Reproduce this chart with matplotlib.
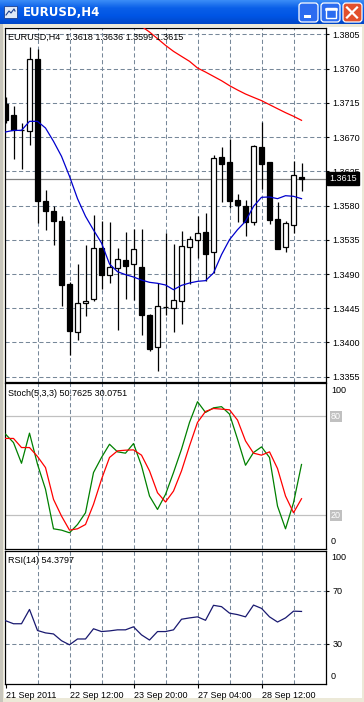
import numpy as np
import matplotlib.pyplot as plt
from matplotlib.patches import Rectangle, FancyBboxPatch
from matplotlib.colors import LinearSegmentedColormap

plt.rcParams['font.family'] = ['Liberation Sans', 'DejaVu Sans']
plt.rcParams['font.size'] = 6.5

W, H = 364, 702

# ===== data (H4 bars) =====
opens = [1.37136, 1.36986, 1.36796, 1.36776, 1.37732, 1.35856, 1.35734, 1.35593, 1.34768, 1.34138,
         1.34515, 1.34576, 1.35242, 1.34883, 1.34979, 1.35080, 1.35027, 1.34988, 1.34356, 1.33935,
         1.34462, 1.34452, 1.34550, 1.35250, 1.35343, 1.35453, 1.35185, 1.36434, 1.36373, 1.35869,
         1.35790, 1.35580, 1.36570, 1.36373, 1.35623, 1.35250, 1.35549, 1.3618]
highs = [1.37223, 1.37105, 1.36886, 1.37885, 1.37858, 1.36009, 1.35799, 1.35658, 1.34795, 1.35032,
         1.35286, 1.35671, 1.35593, 1.35584, 1.35242, 1.35453, 1.35488, 1.35488, 1.34374, 1.34777,
         1.35435, 1.35299, 1.35461, 1.35396, 1.35658, 1.35702, 1.36469, 1.36565, 1.36680, 1.35952,
         1.35869, 1.36601, 1.36894, 1.36375, 1.35847, 1.35601, 1.36391, 1.3636]
lows = [1.36886, 1.36417, 1.36286, 1.36601, 1.35571, 1.35483, 1.35277, 1.34475, 1.33831, 1.34037,
        1.34343, 1.34550, 1.34707, 1.34782, 1.34168, 1.34576, 1.34559, 1.34094, 1.33892, 1.33621,
        1.34362, 1.34133, 1.34243, 1.34768, 1.35111, 1.34812, 1.34914, 1.35847, 1.35769, 1.35580,
        1.35396, 1.35549, 1.36018, 1.35562, 1.35230, 1.35185, 1.35440, 1.3599]
closes = [1.36929, 1.36798, 1.36801, 1.37732, 1.35865, 1.35734, 1.35601, 1.34760, 1.34146, 1.34515,
          1.34550, 1.35242, 1.34892, 1.34988, 1.35097, 1.35010, 1.35224, 1.34365, 1.33918, 1.34475,
          1.34466, 1.34554, 1.35264, 1.35357, 1.35440, 1.35168, 1.36426, 1.36347, 1.35865, 1.35804,
          1.35584, 1.36579, 1.36351, 1.35614, 1.35233, 1.35571, 1.36198, 1.3615]

ma_fast = [1.36768, 1.36789, 1.36789, 1.36908, 1.36908, 1.36820, 1.36645, 1.36448, 1.36185, 1.35891,
           1.35659, 1.35479, 1.35308, 1.35032, 1.34931, 1.34892, 1.34861, 1.34821, 1.34791, 1.34778,
           1.34756, 1.34694, 1.34751, 1.34782, 1.34804, 1.34813, 1.34914, 1.35155, 1.35352, 1.35483,
           1.35593, 1.35790, 1.35909, 1.35913, 1.35891, 1.35930, 1.35922, 1.35891]
ma_slow = [np.nan] * 17 + [1.38157, 1.38082, 1.37995, 1.37907, 1.37828, 1.37762, 1.37697, 1.37609,
                           1.37556, 1.37499, 1.37442, 1.37377, 1.37320, 1.37267, 1.37223, 1.37180,
                           1.37127, 1.37074, 1.37022, 1.36974, 1.36921]

stoch_k = [69.1, 64.0, 51.5, 69.7, 50.9, 35.8, 11.9, 11.1, 9.5, 14.5,
           21.6, 45.9, 55.0, 63.0, 58.4, 57.6, 63.4, 50.0, 31.7, 23.6,
           32.7, 45.9, 60.0, 76.2, 88.7, 82.2, 85.0, 85.7, 81.2, 66.1,
           50.3, 58.0, 61.4, 55.0, 25.6, 11.9, 27.7, 50.7625]
stoch_d = [66.5, 66.5, 61.0, 61.0, 55.6, 48.9, 29.7, 19.6, 11.1, 11.9,
           14.5, 26.7, 41.8, 55.0, 59.0, 59.4, 59.6, 56.4, 46.9, 33.7,
           28.1, 34.7, 46.9, 62.0, 76.2, 82.8, 84.6, 84.2, 83.8, 77.6,
           65.0, 57.6, 56.4, 58.4, 48.3, 31.7, 21.6, 30.0751]
rsi = [47.4, 45.1, 45.1, 55.9, 40.0, 38.2, 37.4, 32.3, 29.2, 33.6,
       33.6, 41.3, 39.2, 39.7, 40.5, 40.5, 42.8, 36.7, 32.8, 39.2,
       39.2, 40.5, 48.5, 49.5, 50.3, 47.7, 59.0, 58.0, 53.1, 52.0,
       50.3, 59.2, 56.7, 50.3, 46.4, 49.5, 54.6, 54.3797]

price_ticks = [1.3805, 1.3760, 1.3715, 1.3670, 1.3625, 1.3580, 1.3535, 1.3490, 1.3445, 1.3400, 1.3355]
date_bars = [0, 8, 16, 24, 32]
date_labels = ["21 Sep 2011", "22 Sep 12:00", "23 Sep 20:00", "27 Sep 04:00", "28 Sep 12:00"]
grid_bars = list(range(4, 40, 4))

GRID = '#778899'
DASH = (0, (4, 2.5))


def rect(x0, y0, x1, y1):
    # pixel box -> figure fraction
    return [x0 / W, 1 - y1 / H, (x1 - x0) / W, (y1 - y0) / H]


def style_panel(ax):
    for s in ax.spines.values():
        s.set_color('black')
        s.set_linewidth(0.9)
    ax.set_xlim(-0.125, 40.06)
    ax.set_xticks([])
    ax.yaxis.tick_right()
    ax.tick_params(axis='y', direction='out', length=2.5, width=0.8, pad=2, labelsize=6.5)
    for b in grid_bars:
        ax.axvline(b, color=GRID, lw=0.75, ls=DASH, zorder=0)


fig = plt.figure(figsize=(W / 100, H / 100), dpi=100)
fig.patch.set_facecolor('white')

# ----- window chrome -----
chrome = fig.add_axes([0, 0, 1, 1])
chrome.set_xlim(0, W)
chrome.set_ylim(H, 0)
chrome.axis('off')
grad = np.linspace(0, 1, 50).reshape(-1, 1)
cm_title = LinearSegmentedColormap.from_list('t', ['#3a8cf7', '#0a5fe8', '#0055e5', '#0047c8'])
chrome.imshow(grad, extent=(0, W, 24, 0), cmap=cm_title, aspect='auto', zorder=0)
chrome.add_patch(Rectangle((0, 24), W, H - 24, fc='#ece9d8', ec='none', zorder=0))
chrome.add_patch(Rectangle((4, 27), W - 6, H - 31, fc='white', ec='none', zorder=0))
chrome.add_patch(Rectangle((0, 24), 3, H - 24, fc='#c8c6bc', ec='none', zorder=0))
# icon
chrome.add_patch(Rectangle((4, 6), 13, 12, fc='#dfe9f7', ec='#1b3f8f', lw=0.6, zorder=1))
chrome.plot([6, 9, 11, 14, 15], [15, 11, 13, 9, 11], color='#1b3f8f', lw=0.8, zorder=2)
chrome.text(23, 12.5, 'EURUSD,H4', color='white', fontsize=8.5, fontweight='bold',
            family='DejaVu Sans', va='center', ha='left', zorder=2)
# buttons
for bx, fc in [(298, '#2c6cf0'), (320, '#2c6cf0'), (342, '#e2502c')]:
    chrome.add_patch(FancyBboxPatch((bx + 1, 3), 19, 19, boxstyle='round,pad=0,rounding_size=3',
                                    fc=fc, ec='white', lw=0.9, zorder=2))
chrome.add_patch(Rectangle((304, 15), 7, 2.5, fc='white', ec='none', zorder=3))
chrome.add_patch(Rectangle((325.5, 7.5), 10, 10, fc='none', ec='white', lw=1.0, zorder=3))
chrome.plot([325.5, 335.5], [8.5, 8.5], color='white', lw=1.8, zorder=3)
chrome.plot([347, 357], [7.5, 17.5], color='white', lw=1.6, zorder=3)
chrome.plot([347, 357], [17.5, 7.5], color='white', lw=1.6, zorder=3)

# ----- main price panel -----
ax = fig.add_axes(rect(4.5, 28, 326, 381.5))
style_panel(ax)
ax.set_ylim(1.33487, 1.38135)
ax.set_yticks(price_ticks)
ax.set_yticklabels([f"{p:.4f}" for p in price_ticks])
for p in price_ticks:
    ax.axhline(p, color=GRID, lw=0.75, ls=DASH, zorder=0)

x = np.arange(len(opens))
for i in x:
    o, h, l, c = opens[i], highs[i], lows[i], closes[i]
    ax.vlines(i, l, h, color='black', lw=0.9, zorder=3)
    if abs(c - o) < 0.00008:
        ax.hlines(o, i - 0.3, i + 0.3, color='black', lw=0.9, zorder=4)
    else:
        ax.add_patch(Rectangle((i - 0.3, min(o, c)), 0.6, abs(c - o),
                               fc='white' if c > o else 'black', ec='black', lw=0.9, zorder=4))

ax.plot(x, ma_fast, color='#0000cd', lw=0.9, zorder=5)
ax.plot(x, ma_slow, color='red', lw=0.9, zorder=5)
ax.axhline(closes[-1], color='#808080', lw=0.9, zorder=1)
ax.annotate(f"{closes[-1]:.4f}", xy=(1, closes[-1]), xycoords=('axes fraction', 'data'),
            xytext=(2.5, 0), textcoords='offset points', va='center', ha='left', color='white',
            fontsize=6.5, bbox=dict(boxstyle='square,pad=0.22', fc='black', ec='black'),
            annotation_clip=False, zorder=10)
ax.text(0.012, 0.985, "EURUSD,H4  " + " ".join(f"{v:.4f}" for v in
        [opens[-1], highs[-1], lows[-1], closes[-1]]),
        transform=ax.transAxes, va='top', ha='left', fontsize=6.5, zorder=10)

# ----- stochastic panel -----
ax2 = fig.add_axes(rect(4.5, 383, 326, 548.5))
style_panel(ax2)
ax2.set_ylim(0, 100)
ax2.set_yticks([])
for lvl in (20, 80):
    ax2.axhline(lvl, color='#c0c0c0', lw=0.9, zorder=0)
    ax2.annotate(str(lvl), xy=(1, lvl), xycoords=('axes fraction', 'data'), xytext=(3.5, 0),
                 textcoords='offset points', va='center', ha='left', color='white', fontsize=6.5,
                 bbox=dict(boxstyle='square,pad=0.1', fc='#c0c0c0', ec='none'), annotation_clip=False)
ax2.annotate("100", xy=(1, 100), xycoords=('axes fraction', 'data'), xytext=(3.5, -2),
             textcoords='offset points', va='top', ha='left', fontsize=6.5, annotation_clip=False)
ax2.annotate("0", xy=(1, 0), xycoords=('axes fraction', 'data'), xytext=(3.5, 2),
             textcoords='offset points', va='bottom', ha='left', fontsize=6.5, annotation_clip=False)
ax2.plot(x, stoch_k, color='#008000', lw=0.9, zorder=3)
ax2.plot(x, stoch_d, color='red', lw=0.9, zorder=4)
ax2.text(0.012, 0.965, f"Stoch(5,3,3) {stoch_k[-1]:.4f} {stoch_d[-1]:.4f}",
         transform=ax2.transAxes, va='top', ha='left', fontsize=6.5)

# ----- RSI panel -----
ax3 = fig.add_axes(rect(4.5, 551, 326, 683.5))
style_panel(ax3)
ax3.set_ylim(0, 100)
ax3.set_yticks([30, 70])
for lvl in (30, 70):
    ax3.axhline(lvl, color=GRID, lw=0.75, ls=DASH, zorder=0)
ax3.annotate("100", xy=(1, 100), xycoords=('axes fraction', 'data'), xytext=(3.5, -1.5),
             textcoords='offset points', va='top', ha='left', fontsize=6.5, annotation_clip=False)
ax3.annotate("0", xy=(1, 0), xycoords=('axes fraction', 'data'), xytext=(3.5, 2),
             textcoords='offset points', va='bottom', ha='left', fontsize=6.5, annotation_clip=False)
ax3.plot(x, rsi, color='#191970', lw=0.9, zorder=3)
ax3.text(0.012, 0.965, f"RSI(14) {rsi[-1]:.4f}", transform=ax3.transAxes,
         va='top', ha='left', fontsize=6.5)

# date axis
ax3.set_xticks(date_bars)
ax3.set_xticklabels(date_labels, ha='left')
ax3.tick_params(axis='x', direction='out', length=3, width=0.8, pad=2.5,
                labelsize=6.5, labelbottom=True)

fig.savefig('out.png', dpi=100)
